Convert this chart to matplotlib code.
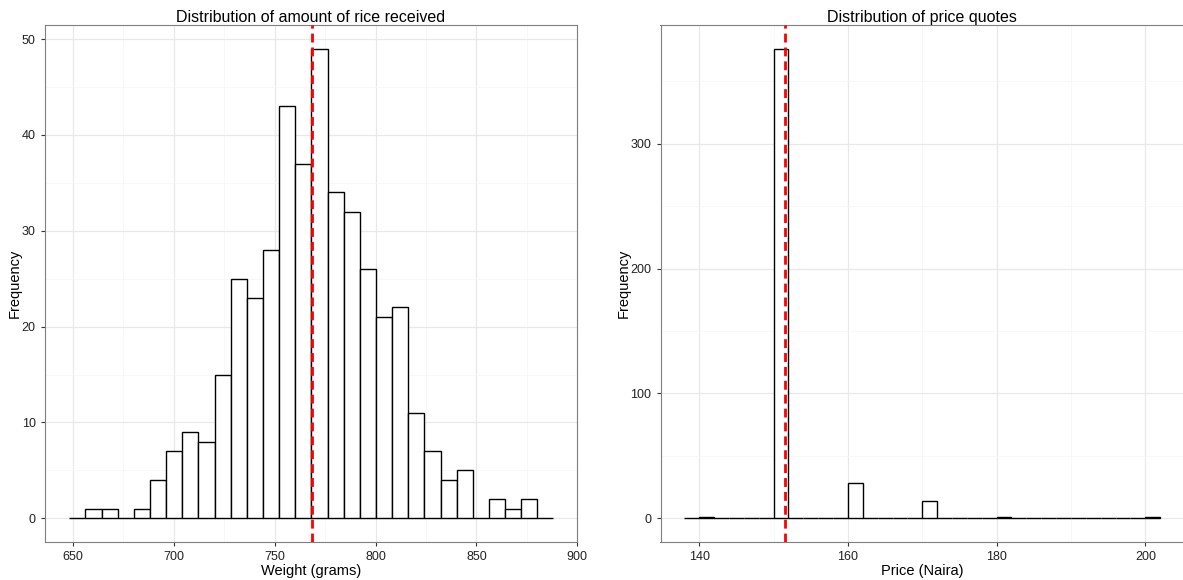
import numpy as np
import matplotlib
matplotlib.use("Agg")
import matplotlib.pyplot as plt
from matplotlib.ticker import MultipleLocator

# rice weight histogram: 30 bins of 8 g starting at 648 g
rice_start = 648.2
rice_width = 8.0
rice_counts = [0, 1, 1, 0, 1, 4, 7, 9, 8, 15, 25, 23, 28, 43, 37,
               49, 34, 32, 26, 21, 22, 11, 7, 4, 5, 0, 2, 1, 2, 0]
rice_mean = 768.5

# price quotes histogram: bins of 2 Naira starting at 138
price_start = 138.0
price_width = 2.0
price_counts = [0] * 32
price_counts[1] = 1
price_counts[6] = 376
price_counts[11] = 28
price_counts[16] = 14
price_counts[21] = 1
price_counts[31] = 1
price_mean = 151.5

plt.rcParams['font.family'] = ['Liberation Sans', 'DejaVu Sans']

W, H = 1183, 580
fig = plt.figure(figsize=(W / 100, H / 100), dpi=100)


def px_axes(x0, y0, x1, y1):
    return fig.add_axes([x0 / W, 1 - y1 / H, (x1 - x0) / W, (y1 - y0) / H])


def style(ax, xmajor, ymajor):
    ax.set_facecolor('white')
    for s in ax.spines.values():
        s.set_color('#7f7f7f')
        s.set_linewidth(0.8)
    ax.xaxis.set_major_locator(MultipleLocator(xmajor))
    ax.xaxis.set_minor_locator(MultipleLocator(xmajor / 2))
    ax.yaxis.set_major_locator(MultipleLocator(ymajor))
    ax.yaxis.set_minor_locator(MultipleLocator(ymajor / 2))
    ax.grid(which='major', color='#e8e8e8', linewidth=0.9)
    ax.grid(which='minor', color='#f7f7f7', linewidth=0.6)
    ax.set_axisbelow(True)
    ax.tick_params(which='major', length=3, width=0.8, color='#333333',
                   labelsize=9, labelcolor='#222222', pad=3.5)
    ax.tick_params(which='minor', length=0)


def hist(ax, start, width, counts, mean):
    edges = start + width * np.arange(len(counts))
    ax.bar(edges, counts, width=width, align='edge', facecolor='white',
           edgecolor='black', linewidth=1.0, zorder=2)
    ax.axvline(mean, color='red', linestyle=(0, (3.2, 1.8)), linewidth=2.0, zorder=3)
    lo, hi = start, start + width * len(counts)
    pad = 0.05 * (hi - lo)
    ax.set_xlim(lo - pad, hi + pad)
    top = max(counts)
    ax.set_ylim(-0.05 * top, top * 1.05)


# left panel
ax1 = px_axes(44.7, 25.3, 577.3, 541.7)
style(ax1, 50, 10)
hist(ax1, rice_start, rice_width, rice_counts, rice_mean)
ax1.set_xlim(636, 900)
ax1.set_title('Distribution of amount of rice received', fontsize=11.5, pad=1.5)
ax1.set_xlabel('Weight (grams)', fontsize=10.5, labelpad=1)
ax1.set_ylabel('Frequency', fontsize=10.5, labelpad=0)

# right panel (right edge runs past the image)
ax2 = px_axes(660.5, 25.3, 1184, 541.7)
style(ax2, 20, 100)
hist(ax2, price_start, price_width, price_counts, price_mean)
ax2.set_title('Distribution of price quotes', fontsize=11.5, pad=1.5)
ax2.set_xlabel('Price (Naira)', fontsize=10.5, labelpad=1)
ax2.set_ylabel('Frequency', fontsize=10.5, labelpad=0)

fig.savefig('out.png', dpi=100, facecolor='white')
